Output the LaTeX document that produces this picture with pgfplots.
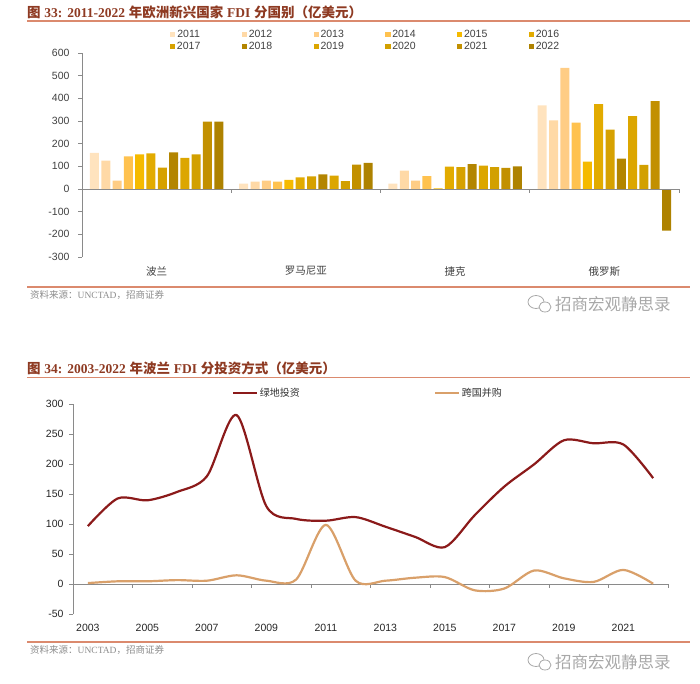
\documentclass[border=0pt]{standalone}
\usepackage{pgfplots}
\pgfplotsset{compat=1.18}
\usepackage{fontspec}
\setmainfont{Liberation Sans}
\newfontfamily\cjk{Noto Sans CJK SC}
\newfontfamily\tnr{Liberation Serif}
\definecolor{c11}{HTML}{FFE3BE}
\definecolor{c12}{HTML}{FFD9A6}
\definecolor{c13}{HTML}{FFCD85}
\definecolor{c14}{HTML}{FFC24F}
\definecolor{c15}{HTML}{F5BA00}
\definecolor{c16}{HTML}{E2AB00}
\definecolor{c17}{HTML}{D6A100}
\definecolor{c18}{HTML}{B38500}
\definecolor{c19}{HTML}{DCA600}
\definecolor{c20}{HTML}{D2A000}
\definecolor{c21}{HTML}{C29000}
\definecolor{c22}{HTML}{AE8200}
\definecolor{titlec}{HTML}{8E3A22}
\definecolor{rulec}{HTML}{DB8A6E}
\definecolor{srcc}{HTML}{8C8C8C}
\definecolor{wmc}{HTML}{A8A8A8}
\definecolor{axc}{HTML}{8A8A8A}
\definecolor{txt}{HTML}{404040}
\definecolor{gf}{HTML}{8B1A1A}
\definecolor{ma}{HTML}{D9A06A}
\pgfplotsset{sq/.style={legend image code/.code={\fill[##1] (0pt,-2.6pt) rectangle (5.2pt,2.6pt);}}}
\begin{document}
\begin{tikzpicture}
\path (0,0) rectangle (700pt,683pt);
% ---------- titles, rules, sources ----------
\node[anchor=west, inner sep=0pt, text=titlec] at (27pt,671pt) {\fontsize{13.5}{15}\selectfont\bfseries{\cjk 图} {\tnr 33:} {\tnr 2011-2022} {\cjk 年欧洲新兴国家} {\tnr FDI} {\cjk 分国别（亿美元）}};
\draw[rulec, line width=1.2pt] (27pt,662pt) -- (690pt,662pt);
\draw[rulec, line width=1.2pt] (27pt,396pt) -- (690pt,396pt);
\node[anchor=west, inner sep=0pt, text=srcc] at (30pt,388pt) {\fontsize{9.5}{11}\selectfont{\cjk 资料来源：}{\tnr UNCTAD}{\cjk ，招商证券}};
\draw[wmc, line width=0.8pt] (536pt,381pt) ellipse (8pt and 6.5pt);
\draw[wmc, line width=0.8pt, fill=white] (545pt,376pt) ellipse (6pt and 5pt);
\node[anchor=west, inner sep=0pt, text=wmc] at (555pt,379pt) {\fontsize{16.5}{18}\selectfont\cjk 招商宏观静思录};

\node[anchor=west, inner sep=0pt, text=titlec] at (27pt,315pt) {\fontsize{13.5}{15}\selectfont\bfseries{\cjk 图} {\tnr 34:} {\tnr 2003-2022} {\cjk 年波兰} {\tnr FDI} {\cjk 分投资方式（亿美元）}};
\draw[rulec, line width=1.2pt] (27pt,305.5pt) -- (690pt,305.5pt);
\draw[rulec, line width=1.2pt] (27pt,41pt) -- (690pt,41pt);
\node[anchor=west, inner sep=0pt, text=srcc] at (30pt,33pt) {\fontsize{9.5}{11}\selectfont{\cjk 资料来源：}{\tnr UNCTAD}{\cjk ，招商证券}};
\draw[wmc, line width=0.8pt] (536pt,23pt) ellipse (8pt and 6.5pt);
\draw[wmc, line width=0.8pt, fill=white] (545pt,18pt) ellipse (6pt and 5pt);
\node[anchor=west, inner sep=0pt, text=wmc] at (555pt,21pt) {\fontsize{16.5}{18}\selectfont\cjk 招商宏观静思录};

% ---------- bar chart ----------
\begin{axis}[
  at={(82pt,426pt)}, anchor=south west,
  scale only axis, width=597pt, height=204pt,
  xmin=-0.5, xmax=3.5, ymin=-300, ymax=600,
  ytick={-300,-200,...,600},
  xtick={0,1,2,3}, xticklabels={波兰,罗马尼亚,捷克,俄罗斯},
  xticklabel style={font=\cjk\fontsize{10.5}{12}\selectfont, text=txt, yshift=-2pt},
  yticklabel style={font=\fontsize{10.5}{12}\selectfont, text=txt, xshift=-5pt},
  /pgf/number format/assume math mode=true,
  axis lines=left, axis line style={-, draw=axc, line width=0.8pt},
  x axis line style={draw=none},
  x tick style={draw=none},
  y tick style={draw=axc, line width=0.8pt},
  tick align=outside, major tick length=4pt,
  ybar=2.3pt, bar width=9pt,
  legend columns=6,
  legend style={at={(axis description cs:0.1474,1.122)}, anchor=north west, draw=none, fill=none,
    font=\fontsize{10.5}{11}\selectfont, text=txt, inner sep=0pt, row sep=0pt,
    nodes={inner sep=1.6pt},
    /tikz/every even column/.append style={column sep=40pt}},
  clip=false,
]
\addplot[fill=c11, draw=none, sq] coordinates {(0,159) (1,24) (2,24) (3,369)};
\addplot[fill=c12, draw=none, sq] coordinates {(0,125) (1,32) (2,81) (3,303)};
\addplot[fill=c13, draw=none, sq] coordinates {(0,37) (1,37) (2,37) (3,534)};
\addplot[fill=c14, draw=none, sq] coordinates {(0,144) (1,32) (2,57) (3,293)};
\addplot[fill=c15, draw=none, sq] coordinates {(0,153) (1,40) (2,3) (3,121)};
\addplot[fill=c16, draw=none, sq] coordinates {(0,157) (1,51) (2,99) (3,374)};
\addplot[fill=c17, draw=none, sq] coordinates {(0,94) (1,56) (2,97) (3,262)};
\addplot[fill=c18, draw=none, sq] coordinates {(0,162) (1,65) (2,110) (3,134)};
\addplot[fill=c19, draw=none, sq] coordinates {(0,137) (1,59) (2,103) (3,322)};
\addplot[fill=c20, draw=none, sq] coordinates {(0,153) (1,35) (2,96) (3,106)};
\addplot[fill=c21, draw=none, sq] coordinates {(0,297) (1,107) (2,93) (3,388)};
\addplot[fill=c22, draw=none, sq] coordinates {(0,297) (1,115) (2,100) (3,-184)};
\legend{2011,2012,2013,2014,2015,2016,2017,2018,2019,2020,2021,2022}
\draw[axc, line width=0.8pt] (axis cs:-0.5,0) -- (axis cs:3.5,0);
\draw[axc, line width=0.8pt] (axis cs:0.5,0) -- ++(0pt,-4pt);
\draw[axc, line width=0.8pt] (axis cs:1.5,0) -- ++(0pt,-4pt);
\draw[axc, line width=0.8pt] (axis cs:2.5,0) -- ++(0pt,-4pt);
\draw[axc, line width=0.8pt] (axis cs:3.5,0) -- ++(0pt,-4pt);
\end{axis}

% ---------- line chart ----------
\begin{axis}[
  at={(73pt,68.7pt)}, anchor=south west,
  scale only axis, width=595pt, height=210pt,
  xmin=2002.5, xmax=2022.5, ymin=-50, ymax=300,
  ytick={-50,0,...,300},
  xtick={2003,2005,...,2021},
  /pgf/number format/.cd, 1000 sep={}, assume math mode=true, /pgfplots/.cd,
  xticklabel style={font=\fontsize{10.5}{12}\selectfont, text=black!85, yshift=-2pt},
  yticklabel style={font=\fontsize{10.5}{12}\selectfont, text=black!85, xshift=-2pt},
  axis lines=left, axis line style={-, draw=axc, line width=0.8pt},
  x axis line style={draw=none},
  x tick style={draw=none},
  y tick style={draw=axc, line width=0.8pt},
  tick align=outside, major tick length=4pt,
  legend columns=2,
  legend style={at={(axis description cs:0.267,1.054)}, anchor=west, draw=none, fill=none,
    font=\cjk\fontsize{10}{11}\selectfont, text=black!80, inner sep=0pt,
    nodes={inner sep=1.5pt},
    /tikz/every even column/.append style={column sep=133pt}},
  legend image code/.code={\draw[#1] (0pt,0pt) -- (24pt,0pt);},
  clip=false,
]
\draw[axc, line width=0.8pt] (axis cs:2002.5,0) -- (axis cs:2022.5,0);
\draw[axc, line width=0.8pt] (axis cs:2004.5,0) -- ++(0pt,-4pt);
\draw[axc, line width=0.8pt] (axis cs:2006.5,0) -- ++(0pt,-4pt);
\draw[axc, line width=0.8pt] (axis cs:2008.5,0) -- ++(0pt,-4pt);
\draw[axc, line width=0.8pt] (axis cs:2010.5,0) -- ++(0pt,-4pt);
\draw[axc, line width=0.8pt] (axis cs:2012.5,0) -- ++(0pt,-4pt);
\draw[axc, line width=0.8pt] (axis cs:2014.5,0) -- ++(0pt,-4pt);
\draw[axc, line width=0.8pt] (axis cs:2016.5,0) -- ++(0pt,-4pt);
\draw[axc, line width=0.8pt] (axis cs:2018.5,0) -- ++(0pt,-4pt);
\draw[axc, line width=0.8pt] (axis cs:2020.5,0) -- ++(0pt,-4pt);
\draw[axc, line width=0.8pt] (axis cs:2022.5,0) -- ++(0pt,-4pt);
\addplot[smooth, color=gf, line width=2.2pt] coordinates {
(2003,97) (2004,143) (2005,140) (2006,154) (2007,180) (2008,282) (2009,130) (2010,109) (2011,106) (2012,112)
(2013,96) (2014,79) (2015,62) (2016,115) (2017,163) (2018,200) (2019,240) (2020,235) (2021,233) (2022,177)};
\addplot[smooth, color=ma, line width=2.2pt] coordinates {
(2003,2) (2004,5) (2005,5) (2006,7) (2007,6) (2008,15) (2009,6) (2010,8) (2011,99) (2012,6)
(2013,6) (2014,11) (2015,12) (2016,-10) (2017,-7) (2018,23) (2019,10) (2020,4) (2021,24) (2022,1)};
\legend{绿地投资,跨国并购}
\end{axis}
\end{tikzpicture}
\end{document}
